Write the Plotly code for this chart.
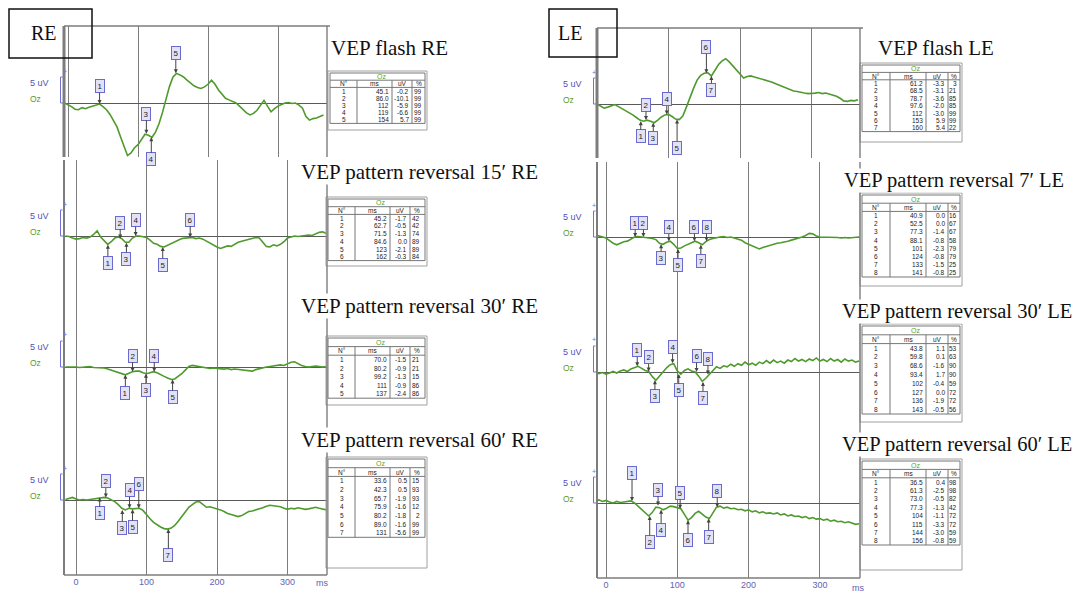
import plotly.graph_objects as go

W, H = 1085, 595
OFF = 8                    # default page margin of the html body
FW, FH = W - OFF, H - OFF  # figure size so that it fits the window
S = 5.2  # pixels per microvolt (5 uV bracket = 26 px)

# ---------------- sampling grids (ms) ----------------
re_flash_t = [-5, 0, 5, 10, 15, 20, 25, 30, 35, 40,
              45, 50, 55, 60, 65, 70, 75, 80, 85, 90,
              95, 100, 105, 110, 115, 120, 125, 130, 135, 140,
              145, 150, 155, 160, 165, 170, 175, 180, 185, 190,
              195, 200, 205, 210, 215, 220, 225, 230, 235, 240,
              245, 250, 255, 260, 265, 270, 275, 280, 285, 290,
              295, 300, 305, 310, 315, 320, 325, 330, 335, 340,
              345, 350, 355, 360, 365]
le_flash_t = [0, 5, 10, 15, 20, 25, 30, 35, 40, 45,
              50, 55, 60, 65, 70, 75, 80, 85, 90, 95,
              100, 105, 110, 115, 120, 125, 130, 135, 140, 145,
              150, 155, 160, 165, 170, 175, 180, 185, 190, 195,
              200, 205, 210, 215, 220, 225, 230, 235, 240, 245,
              250, 255, 260, 265, 270, 275, 280, 285, 290, 295,
              300, 305, 310, 315, 320, 325, 330, 335, 340, 345,
              350, 355, 360, 365]
pattern_t = [-15, -10, -5, 0, 5, 10, 15, 20, 25, 30,
             35, 40, 45, 50, 55, 60, 65, 70, 75, 80,
             85, 90, 95, 100, 105, 110, 115, 120, 125, 130,
             135, 140, 145, 150, 155, 160, 165, 170, 175, 180,
             185, 190, 195, 200, 205, 210, 215, 220, 225, 230,
             235, 240, 245, 250, 255, 260, 265, 270, 275, 280,
             285, 290, 295, 300, 305, 310, 315, 320, 325, 330,
             335, 340, 345, 350, 355]

# ---------------- waveforms (uV) ----------------
re_flash_v = [0.0, -0.3, -0.7, -1.2, -1.3, -0.9, -1.1, -0.8, -0.6, -0.3,
              -0.2, -0.7, -1.3, -2.2, -3.4, -4.6, -6.5, -8.3, -10.1, -9.6,
              -8.6, -8.0, -7.1, -6.0, -6.2, -6.6, -5.6, -4.0, -1.8, 0.8,
              3.2, 5.0, 5.7, 5.4, 5.0, 4.4, 3.8, 3.3, 3.0, 2.8,
              3.1, 3.6, 4.4, 3.6, 2.5, 1.6, 0.9, 0.6, 0.3, 0.0,
              -0.6, -1.3, -1.9, -2.3, -2.0, -1.4, -0.4, 0.5, -0.6, -1.7,
              -1.1, -0.6, -0.3, 0.0, 0.1, -0.1, 0.0, -0.4, -1.0, -2.6,
              -3.3, -3.0, -2.9, -2.6, -2.3]
re15_v = [0.0, -0.1, -0.4, -0.6, -0.5, -0.3, -0.4, -0.2, 0.3, 1.0,
          -0.2, -1.0, -1.6, -1.1, -0.4, -0.2, -0.5, -1.2, -1.2, -0.4,
          0.0, 0.0, -0.1, -0.3, -0.8, -1.4, -1.6, -2.0, -2.1, -1.8,
          -1.5, -1.2, -0.9, -0.5, -0.4, -0.3, -0.3, -0.5, -0.4, -0.6,
          -1.0, -1.3, -1.7, -2.1, -2.4, -2.2, -1.9, -2.0, -1.6, -1.2,
          -1.0, -0.8, -0.6, -0.5, -0.3, -0.4, -1.2, -2.0, -2.1, -1.7,
          -1.9, -1.6, -1.1, -0.4, -0.2, 0.0, -0.1, 0.0, 0.1, 0.2,
          0.1, 0.4, 0.7, 0.8, 0.5]
re30_v = [0.0, 0.0, 0.1, 0.0, -0.1, 0.0, 0.0, 0.1, -0.1, -0.1,
          -0.2, -0.2, -0.4, -0.6, -0.9, -1.1, -1.3, -1.5, -1.2, -0.9,
          -0.8, -0.8, -1.1, -1.3, -1.1, -0.9, -1.1, -1.5, -1.8, -2.1,
          -2.4, -2.3, -1.8, -1.3, -0.6, 0.1, 0.3, 0.2, 0.1, 0.0,
          -0.1, -0.3, -0.2, -0.3, -0.4, -0.4, -0.3, -0.5, -0.4, -0.5,
          -0.6, -0.7, -0.8, -0.8, -0.5, -0.3, -0.1, 0.0, 0.1, 0.2,
          0.3, 0.4, 0.3, 0.6, 0.9, 1.0, 0.6, 0.3, 0.1, 0.0,
          0.1, 0.2, 0.1, 0.0, 0.1]
re60_v = [0.1, 0.3, 0.5, 0.2, 0.0, 0.1, 0.0, 0.1, 0.2, 0.3,
          0.5, 0.5, 0.4, 0.0, -0.3, -0.9, -1.6, -1.9, -1.6, -1.7,
          -1.6, -1.6, -2.0, -2.9, -3.6, -4.3, -4.8, -5.2, -5.5, -5.6,
          -5.4, -4.9, -4.1, -3.2, -2.2, -1.4, -0.9, -0.4, -0.3, -0.8,
          -1.4, -1.3, -1.5, -1.6, -1.9, -2.2, -2.6, -2.8, -3.0, -3.2,
          -3.0, -2.6, -2.2, -2.1, -1.9, -1.8, -1.5, -1.2, -1.0, -1.1,
          -1.2, -1.3, -1.6, -1.8, -1.6, -1.7, -1.5, -1.6, -1.8, -1.7,
          -1.5, -1.4, -1.6, -1.8, -1.9]
le_flash_v = [0.0, -0.4, -0.8, -0.6, -0.3, -0.1, -0.5, -0.9, -1.2, -1.6,
              -2.1, -2.6, -3.1, -3.3, -3.1, -3.3, -3.6, -3.1, -2.5, -2.1,
              -2.0, -2.4, -2.9, -3.0, -2.3, -0.6, 1.4, 3.0, 4.6, 5.5,
              5.9, 6.0, 5.4, 6.4, 7.6, 8.3, 8.7, 8.1, 7.3, 6.4,
              5.6, 5.0, 5.3, 5.4, 5.2, 5.0, 4.9, 4.7, 4.4, 4.2,
              3.9, 3.6, 3.3, 3.0, 2.8, 2.5, 2.4, 2.2, 2.1, 2.0,
              2.0, 2.1, 2.2, 2.0, 2.1, 1.9, 1.7, 1.5, 1.1, 0.6,
              0.5, 0.7, 0.6, 0.8]
le7_v = [0.4, 0.2, 0.0, -0.2, -0.7, -1.2, -1.5, -1.2, -0.9, -0.8,
         -0.4, 0.0, 0.1, 0.0, 0.0, -0.1, -0.3, -0.5, -1.2, -1.4,
         -1.0, -0.8, -1.4, -2.2, -2.1, -1.7, -1.4, -1.0, -0.8, -1.1,
         -1.5, -0.9, -0.5, -0.3, -0.1, 0.0, 0.1, -0.1, 0.0, -0.2,
         -0.3, -0.6, -1.1, -1.4, -1.8, -2.1, -2.3, -2.0, -1.8, -1.5,
         -1.4, -1.2, -1.1, -1.0, -0.8, -0.6, -0.4, -0.3, 0.0, 0.3,
         0.7, 0.6, 0.2, 0.0, 0.0, -0.1, 0.0, 0.0, -0.1, -0.2,
         -0.1, -0.2, -0.1, 0.0, 0.0]
le30_v = [0.0, -0.3, -0.1, -0.4, -0.2, 0.1, -0.2, 0.2, 0.4, 0.1,
          0.6, 0.9, 1.1, 0.7, 0.3, 0.1, -0.9, -1.6, -0.8, 0.1,
          0.8, 1.4, 1.6, 0.2, -0.4, 0.3, 0.6, 0.2, 0.0, -0.8,
          -1.8, -1.2, -0.5, 0.4, 1.0, 0.7, 1.2, 1.0, 1.5, 1.1,
          1.6, 1.3, 1.9, 1.4, 1.7, 1.3, 1.9, 1.6, 2.2, 1.7,
          2.3, 1.8, 2.1, 1.7, 2.3, 2.0, 2.6, 2.1, 2.4, 2.0,
          2.5, 2.2, 2.7, 2.1, 2.4, 2.0, 2.6, 2.1, 2.4, 1.9,
          2.5, 2.1, 2.3, 1.9, 2.1]
le60_v = [0.4, 0.6, 0.3, 0.5, 0.2, 0.0, 0.3, 0.1, 0.2, 0.3,
          0.4, 0.0, -0.6, -1.2, -1.9, -2.5, -1.8, -0.8, -0.9, -1.3,
          -1.0, -0.6, -0.7, -0.9, -1.1, -2.2, -3.3, -2.8, -2.0, -1.6,
          -2.1, -2.7, -3.0, -2.0, -0.8, -0.6, -1.0, -0.8, -1.1, -1.0,
          -1.3, -1.2, -1.5, -1.3, -1.7, -1.5, -1.9, -1.7, -2.0, -1.9,
          -2.1, -1.9, -2.3, -2.1, -2.5, -2.3, -2.6, -2.5, -2.8, -2.6,
          -3.0, -2.8, -3.1, -3.0, -3.3, -3.1, -3.5, -3.3, -3.6, -3.5,
          -3.8, -3.6, -3.9, -4.1, -4.0]

# ---------------- peak tables ----------------
re_flash_ms = [45.1, 86.0, 112, 119, 154]
re_flash_uv = [-0.2, -10.1, -5.9, -6.6, 5.7]
re_flash_pct = [99, 99, 99, 99, 99]
re15_ms = [45.2, 62.7, 71.5, 84.6, 123, 162]
re15_uv = [-1.7, -0.5, -1.3, 0.0, -2.1, -0.3]
re15_pct = [42, 42, 74, 89, 89, 84]
re30_ms = [70.0, 80.2, 99.2, 111, 137]
re30_uv = [-1.5, -0.9, -1.3, -0.9, -2.4]
re30_pct = [21, 21, 15, 86, 86]
re60_ms = [33.6, 42.3, 65.7, 75.9, 80.2, 89.0, 131]
re60_uv = [0.5, 0.5, -1.9, -1.6, -1.8, -1.6, -5.6]
re60_pct = [15, 93, 93, 12, 2, 99, 99]
le_flash_ms = [61.2, 68.5, 78.7, 97.6, 112, 153, 160]
le_flash_uv = [-3.3, -3.1, -3.6, -2.0, -3.0, 5.9, 5.4]
le_flash_pct = [3, 21, 85, 85, 99, 99, 22]
le7_ms = [40.9, 52.5, 77.3, 88.1, 101, 124, 133, 141]
le7_uv = [0.0, 0.0, -1.4, -0.8, -2.3, -0.8, -1.5, -0.8]
le7_pct = [16, 67, 67, 58, 79, 79, 25, 25]
le30_ms = [43.8, 59.8, 68.6, 93.4, 102, 127, 136, 143]
le30_uv = [1.1, 0.1, -1.6, 1.7, -0.4, 0.0, -1.9, -0.5]
le30_pct = [53, 63, 90, 90, 59, 72, 72, 56]
le60_ms = [36.5, 61.3, 73.0, 77.3, 104, 115, 144, 156]
le60_uv = [0.4, -2.5, -0.5, -1.3, -1.1, -3.3, -3.0, -0.8]
le60_pct = [98, 98, 82, 42, 72, 72, 59, 59]

table_headers = ["N°", "ms", "uV", "%"]
panel_titles = ["VEP flash RE", "VEP pattern reversal 15′ RE",
                "VEP pattern reversal 30′ RE", "VEP pattern reversal 60′ RE",
                "VEP flash LE", "VEP pattern reversal 7′ LE",
                "VEP pattern reversal 30′ LE", "VEP pattern reversal 60′ LE"]
tick_vals = [0, 100, 200, 300]

# ---------------- styling / geometry (pixels in the 1085x595 window) ----------------
GREEN = "#4f9a2c"
GRID = "#7d7d7d"
SERIF = "Liberation Serif"


def X(p):
    return (p - OFF) / FW


def Y(p):
    return 1 - (p - OFF) / FH


RE_CW = [27, 35, 20, 13]
LE_CW = [28, 36, 22, 12]
panels = [
    # RE
    dict(t=re_flash_t, v=re_flash_v, ms=re_flash_ms, uv=re_flash_uv, pct=re_flash_pct,
         x0=64, x1=327, top=26, bottom=157, base=103, zero=68, ppm=0.70, ticks=False,
         offs=[-18, None, -20, 22, -20], tsize=21,
         title=(330, 48), table=dict(x0=330, x1=425, top=73, rh=7.2, fb=130, cw=RE_CW)),
    dict(t=pattern_t, v=re15_v, ms=re15_ms, uv=re15_uv, pct=re15_pct,
         x0=64, x1=327, top=160, bottom=300, base=236, zero=76, ppm=0.705, ticks=False,
         offs=[18, -16, 16, -16, 18, -18], tsize=21,
         title=(300, 172), table=dict(x0=328, x1=425, top=199, rh=7.7, fb=266, cw=RE_CW)),
    dict(t=pattern_t, v=re30_v, ms=re30_ms, uv=re30_uv, pct=re30_pct,
         x0=64, x1=327, top=300, bottom=433, base=367, zero=76, ppm=0.705, ticks=False,
         offs=[18, -16, 16, -16, 18], tsize=21,
         title=(300, 306), table=dict(x0=328, x1=425, top=338, rh=8.6, fb=405, cw=RE_CW)),
    dict(t=pattern_t, v=re60_v, ms=re60_ms, uv=re60_uv, pct=re60_pct,
         x0=64, x1=327, top=433, bottom=575, base=500, zero=76, ppm=0.705, ticks=True,
         offs=[16, -16, 18, -18, 18, -24, 26], tsize=21,
         title=(300, 440), table=dict(x0=328, x1=425, top=459, rh=8.7, fb=568, cw=RE_CW)),
    # LE
    dict(t=le_flash_t, v=le_flash_v, ms=le_flash_ms, uv=le_flash_uv, pct=le_flash_pct,
         x0=597, x1=860, top=28, bottom=158, base=104, zero=597, ppm=0.715, ticks=False,
         offs=[15, -15, 15, -15, 28, -26, 14], tsize=21,
         title=(877, 48), table=dict(x0=862, x1=960, top=65, rh=7.4, fb=142, cw=LE_CW)),
    dict(t=pattern_t, v=le7_v, ms=le7_ms, uv=le7_uv, pct=le7_pct,
         x0=597, x1=860, top=162, bottom=305, base=237, zero=606, ppm=0.713, ticks=False,
         offs=[-14, -14, 14, -14, 16, -14, 16, -14], tsize=20.5,
         title=(843, 180), table=dict(x0=862, x1=960, top=195, rh=8.2, fb=286, cw=LE_CW)),
    dict(t=pattern_t, v=le30_v, ms=le30_ms, uv=le30_uv, pct=le30_pct,
         x0=597, x1=860, top=305, bottom=438, base=372, zero=606, ppm=0.713, ticks=False,
         offs=[-16, -14, 16, -16, 16, -16, 16, -16], tsize=20.5,
         title=(841, 311), table=dict(x0=862, x1=960, top=326, rh=8.8, fb=422, cw=LE_CW)),
    dict(t=pattern_t, v=le60_v, ms=le60_ms, uv=le60_uv, pct=le60_pct,
         x0=597, x1=860, top=438, bottom=578, base=503, zero=606, ppm=0.713, ticks=True,
         offs=[-28, 26, -16, 20, -16, 20, 18, -16], tsize=20.5,
         title=(841, 444), table=dict(x0=862, x1=960, top=461, rh=8.4, fb=570, cw=LE_CW)),
]

fig = go.Figure()
layout_axes = {}
shapes = []
annotations = []


def fmt_ms(v):
    return f"{v:.0f}" if v >= 100 else f"{v:.1f}"


def seg(x0, y0, x1, y1, w=1.4, c=GRID):
    shapes.append(dict(type="line", xref="paper", yref="paper",
                       x0=X(x0), y0=Y(y0), x1=X(x1), y1=Y(y1), line=dict(color=c, width=w)))


def text(x, y, s, size=6.5, color="#222", anchor="center", family="Arial"):
    annotations.append(dict(x=X(x), y=Y(y), xref="paper", yref="paper", text=s,
                            showarrow=False, xanchor=anchor, yanchor="middle", borderpad=0,
                            font=dict(family=family, size=size, color=color)))


for i, P in enumerate(panels, start=1):
    xa = "xaxis" if i == 1 else f"xaxis{i}"
    ya = "yaxis" if i == 1 else f"yaxis{i}"
    xr = "x" if i == 1 else f"x{i}"
    yr = "y" if i == 1 else f"y{i}"
    rng_x = [(P["x0"] - P["zero"]) / P["ppm"], (P["x1"] - P["zero"]) / P["ppm"]]
    rng_y = [-(P["bottom"] - P["base"]) / S, (P["base"] - P["top"]) / S]
    layout_axes[xa] = dict(
        domain=[X(P["x0"]), X(P["x1"])], range=rng_x, anchor=yr,
        tickmode="array", tickvals=tick_vals, ticktext=[str(t) for t in tick_vals],
        showgrid=True, gridcolor=GRID, gridwidth=1.4, zeroline=False, showline=False,
        showticklabels=P["ticks"], ticks="", ticklen=0,
        tickfont=dict(family="Arial", size=9, color="#6262b0"), fixedrange=True)
    layout_axes[ya] = dict(
        domain=[Y(P["bottom"]), Y(P["top"])], range=rng_y, anchor=xr,
        showgrid=False, zeroline=True, zerolinecolor="#5a5a5a", zerolinewidth=1,
        showticklabels=False, showline=False, fixedrange=True)

    fig.add_trace(go.Scatter(x=P["t"], y=P["v"], xaxis=xr, yaxis=yr, mode="lines",
                             line=dict(color=GREEN, width=1.6), hoverinfo="skip",
                             showlegend=False))

    # numbered peak markers
    for k, (m, u) in enumerate(zip(P["ms"], P["uv"])):
        off = P["offs"][k]
        if off is None:
            continue
        annotations.append(dict(
            x=m, y=u, xref=xr, yref=yr, text=str(k + 1), showarrow=True,
            arrowhead=2, arrowsize=0.8, arrowwidth=1, arrowcolor="#444",
            ax=0, ay=off, font=dict(family="Arial", size=8, color="#222"),
            bgcolor="#e2e2f6", bordercolor="#6a6ad0", borderwidth=1, borderpad=1.5))

    # 5 uV scale bracket (drawn in data units: 0 -> 5 uV)
    bx = P["x0"] - 3.5
    shapes.append(dict(type="path", xref="paper", yref=yr,
                       path=f"M {X(P['x0'])} 0 L {X(bx)} 0 L {X(bx)} 5 L {X(bx + 2)} 5",
                       line=dict(color="#7070d8", width=1)))
    annotations.append(dict(x=X(bx), y=5, xref="paper", yref=yr, text="+", showarrow=False,
                            yshift=6, font=dict(family="Arial", size=7, color="#7070d8")))
    lx = P["x0"] - 35
    text(lx, P["base"] - 20, "5 uV", size=9, color="#5050b8", anchor="left")
    text(lx, P["base"] - 4, "Oz", size=8.5, color="#5a9a2a", anchor="left")

    # title text
    tx, ty = P["title"]
    annotations.append(dict(x=X(tx), y=Y(ty), xref="paper", yref="paper",
                            text=panel_titles[i - 1], showarrow=False,
                            xanchor="left", yanchor="middle", bgcolor="white", borderpad=0,
                            font=dict(family=SERIF, size=P["tsize"], color="#111")))

    # peak table (grid + cell texts)
    T = P["table"]
    n = len(P["ms"])
    rh = T["rh"]
    tb = T["top"] + rh * (n + 2)
    shapes.append(dict(type="rect", xref="paper", yref="paper",
                       x0=X(T["x0"] - 2), x1=X(T["x1"] + 2),
                       y0=Y(T["fb"]), y1=Y(T["top"] - 2),
                       line=dict(color="#a0a0a0", width=1)))
    shapes.append(dict(type="rect", xref="paper", yref="paper",
                       x0=X(T["x0"]), x1=X(T["x1"]), y0=Y(tb), y1=Y(T["top"]),
                       line=dict(color="#777", width=1)))
    seg(T["x0"], T["top"] + rh, T["x1"], T["top"] + rh, w=1, c="#777")
    seg(T["x0"], T["top"] + 2 * rh, T["x1"], T["top"] + 2 * rh, w=1, c="#777")
    edges = [T["x0"]]
    for w_ in T["cw"]:
        edges.append(edges[-1] + w_)
    for e in edges[1:-1]:
        seg(e, T["top"] + rh, e, tb, w=1, c="#777")
    text((T["x0"] + T["x1"]) / 2 + 4, T["top"] + rh / 2, "Oz", size=7, color="#5aa52a")
    for c, hdr in enumerate(table_headers):
        text((edges[c] + edges[c + 1]) / 2, T["top"] + 1.5 * rh, hdr, size=6.5)
    cols = [[str(j + 1) for j in range(n)],
            [fmt_ms(m) for m in P["ms"]],
            [f"{u:.1f}" for u in P["uv"]],
            [str(p) for p in P["pct"]]]
    for j in range(n):
        yy = T["top"] + (2.5 + j) * rh
        text((edges[0] + edges[1]) / 2, yy, cols[0][j], size=6.5)
        for c in (1, 2, 3):
            text(edges[c + 1] - 2, yy, cols[c][j], size=6.5, anchor="right")

# frame lines
for (L, R, top, fbot, ltop, lbot) in [(64, 327, 26, 157, 160, 575), (597, 860, 28, 158, 162, 578)]:
    seg(L, top, R + 3, top)
    seg(L, top, L, fbot, w=3)
    seg(R, top, R, fbot)
    seg(L, ltop, L, lbot, w=2)
    seg(R, ltop, R, lbot)
    seg(L, lbot, R, lbot)

text(322, 583, "ms", size=9, color="#6262b0")
text(858, 588, "ms", size=9, color="#6262b0")

# eye labels
for (bx0, by0, bx1, by1, cx, cy, lab) in [(9, 9, 92, 58, 44, 33, "RE"), (549, 9, 617, 57, 570, 33, "LE")]:
    shapes.append(dict(type="rect", xref="paper", yref="paper", x0=X(bx0), x1=X(bx1),
                       y0=Y(by1), y1=Y(by0), line=dict(color="#111", width=1.5)))
    text(cx, cy, lab, size=20, color="#111", family=SERIF)

fig.update_layout(width=FW, height=FH, margin=dict(l=0, r=0, t=0, b=0),
                  paper_bgcolor="white", plot_bgcolor="white", showlegend=False,
                  shapes=shapes, annotations=annotations, **layout_axes)

fig.write_html("out.html")
